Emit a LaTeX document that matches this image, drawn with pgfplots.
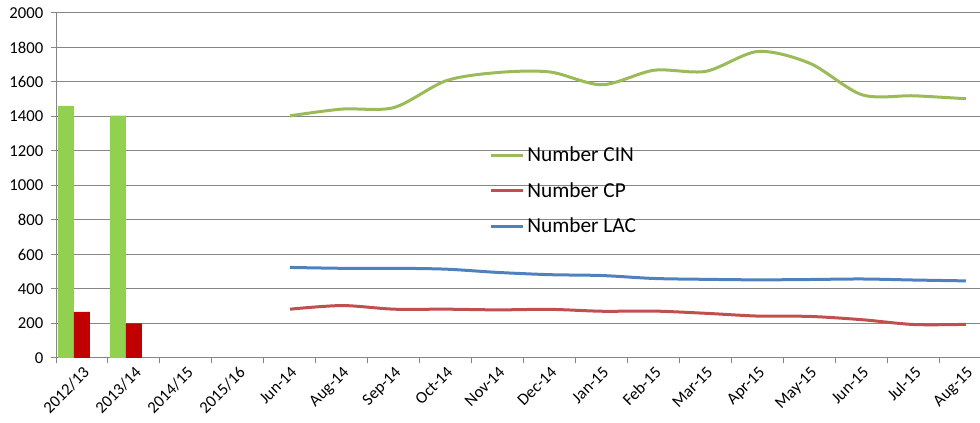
\documentclass[border=0pt]{standalone}
\usepackage{pgfplots}
\pgfplotsset{compat=1.18}
\usepackage{fontspec}
\setmainfont{Carlito}
\usetikzlibrary{calc}
\definecolor{cinbar}{HTML}{92D050}
\definecolor{cpbar}{HTML}{C00000}
\definecolor{cinline}{HTML}{9BBB59}
\definecolor{cpline}{HTML}{C0504D}
\definecolor{lacline}{HTML}{4F81BD}
\definecolor{gridc}{HTML}{868686}

\begin{document}
\begin{tikzpicture}
\begin{axis}[
  name=ax,
  scale only axis,
  width=693pt, height=258.75pt,
  xmin=-0.5, xmax=17.27,
  ymin=0, ymax=2000,
  axis lines*=left,
  axis line style={gridc, line width=0.75pt, -},
  ytick={0,200,...,2000},
  ymajorgrids,
  grid style={gridc, line width=0.75pt},
  xtick={0,...,17},
  xticklabels={2012/13,2013/14,2014/15,2015/16,Jun-14,Aug-14,Sep-14,Oct-14,Nov-14,Dec-14,Jan-15,Feb-15,Mar-15,Apr-15,May-15,Jun-15,Jul-15,Aug-15},
  minor xtick={-0.5,0.5,...,16.5},
  tick align=outside,
  major x tick style={draw=none},
  minor x tick style={gridc, line width=0.75pt},
  y tick style={gridc, line width=0.75pt},
  major tick length=4pt, minor tick length=4pt,
  /pgf/number format/assume math mode=true,
  /pgf/number format/1000 sep={},
  yticklabel style={font=\fontsize{12.5}{15}\selectfont, xshift=-2pt},
  xticklabel style={font=\fontsize{12.5}{15}\selectfont, rotate=45, anchor=north east, inner sep=1pt},
  legend style={at={(0.469,0.62)}, anchor=north west, draw=none, fill=none,
    font=\fontsize{16}{19}\selectfont, row sep=10pt, inner sep=0pt},
  legend cell align=left,
  legend image code/.code={\draw[#1, line width=2.25pt] (0pt,0pt) -- (24pt,0pt);},
]
\addplot[ybar, bar width=12pt, bar shift=-12pt, fill=cinbar, draw=none, forget plot]
  coordinates {(0,1462) (1,1405)};
\addplot[ybar, bar width=12pt, bar shift=0pt, fill=cpbar, draw=none, forget plot]
  coordinates {(0,268) (1,200)};

\addplot[cinline, line width=2.25pt, smooth] coordinates {
  (4,1404) (5,1443) (6,1452) (7,1607) (8,1655) (9,1658) (10,1584)
  (11,1668) (12,1662) (13,1777) (14,1708) (15,1526) (16,1520) (17,1503)};
\addplot[cpline, line width=2.25pt, smooth] coordinates {
  (4,283) (5,304) (6,283) (7,283) (8,279) (9,282) (10,271)
  (11,272) (12,259) (13,243) (14,241) (15,222) (16,194) (17,195)};
\addplot[lacline, line width=2.25pt, smooth] coordinates {
  (4,525) (5,520) (6,520) (7,515) (8,496) (9,483) (10,478)
  (11,461) (12,456) (13,453) (14,455) (15,458) (16,452) (17,447)};
\legend{Number CIN, Number CP, Number LAC}
\end{axis}
\pgfresetboundingbox
\path ($(ax.south west)+(-42pt,-48.75pt)$) rectangle ($(ax.north east)+(0pt,9.75pt)$);
\end{tikzpicture}
\end{document}
